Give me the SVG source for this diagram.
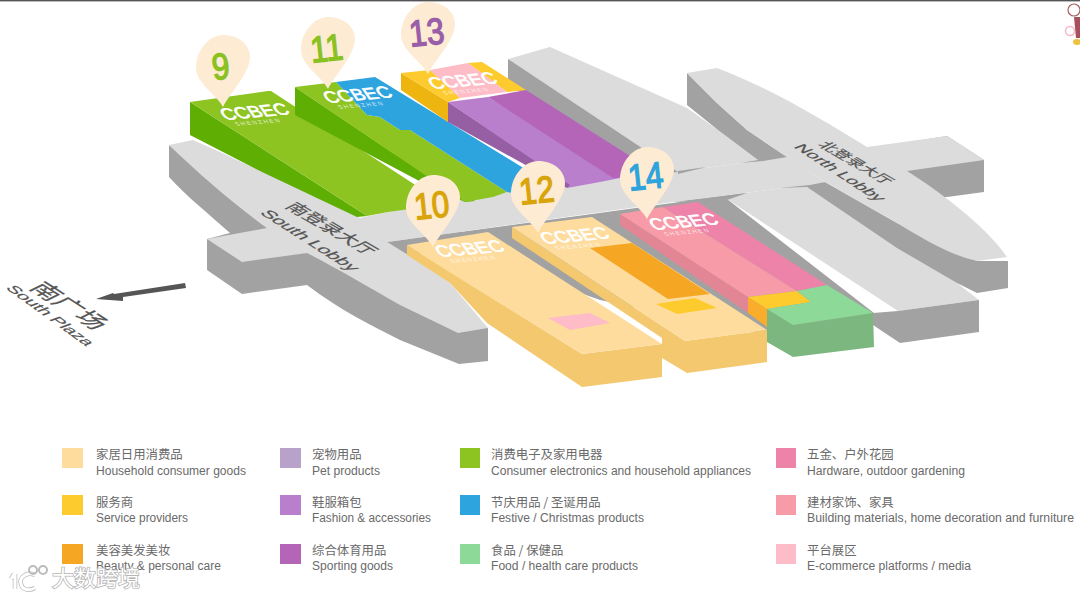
<svg xmlns="http://www.w3.org/2000/svg" width="1080" height="598" viewBox="0 0 1080 598">
<style>
text{font-family:"Liberation Sans","Noto Sans CJK SC",sans-serif}
.top{fill:#dcdcdc}.dk{fill:#a2a2a2}
.lc{font-size:12.4px;fill:#6a6a6a;font-family:"Noto Sans CJK SC",sans-serif}
.le{font-size:12px;fill:#6a6a6a}
.num{font-size:37px;text-anchor:middle;stroke-width:1.4}
.logo{font-size:17.5px;fill:#fff;stroke:#fff;stroke-width:.7}
.sub{font-size:6px;fill:#fff;opacity:.75}
.lob{fill:#555;stroke:#555;stroke-width:.25}
.pinb{fill:#fdebd3}
</style>
<defs>
<path id="pin" d="M0,0C-6,-12-27,-24-27,-39C-27,-58-13,-72,0,-72C16,-72,27,-62,27,-50C27,-34,7,-14,0,0Z"/>
</defs>
<rect width="1080" height="598" fill="#fff"/>
<rect width="1080" height="1.4" fill="#555"/>
<g id="floor">
<path class="dk" d="M169,145V177C185,195,210,215,230,233L207,239V270L242,294L307,285C340,310,370,325,400,340L459,364L488,361V328L400,290L267,228Z"/>
<path class="top" d="M169,145L193,140C250,165,310,195,360,218L388,212L460,205V245L387,242L408,255L450,283L488,328L458,333L400,305C370,288,340,270,307,253L242,262L207,239L267,228C235,205,200,175,169,145Z"/>
<path class="dk" d="M387,242L460,232L745,193L727,199L874,313V325L790,340L600,300L460,250L408,255Z"/>
<path class="dk" d="M508,59V83L622,165L640,183L706,168L678,150Z"/>
<path class="top" d="M388,212L507,192L600,180L678,172L706,168L741,163L785,155L825,182L807,187L782,188L745,193L673,202L530,222L460,232L387,242Z"/>
<path class="top" d="M508,59L550,47L687,108L718,130L758,160L741,163L706,168L678,172Z"/>
<path class="dk" d="M678,171L706,167L678,174Z"/>
<path class="top" d="M727,199L745,193L782,188L807,187L957,283L979,300L898,311Z"/>
<path class="dk" d="M673,202L747,193L727,200Z"/>
<path class="dk" d="M979,300V332L900,343L873,325L873,313L898,311Z"/>
<path class="dk" d="M947,136L984,160V192L947,197L880,205L860,150Z"/>
<path class="top" d="M867,147L947,136L984,160L907,171L880,180Z"/>
<path class="dk" d="M687,73V105L718,130L758,160L740,163L763,161L787,157L747,130L717,103Z"/>
<path class="dk" d="M780,188L810,185L825,182L897,223L977,261V293L957,283L897,248L807,187Z"/>
<path class="dk" d="M977,261H1008V288L977,293Z"/>
<path class="top" d="M687,73L717,68C770,88,820,118,867,147L907,171C940,192,985,225,1007,257L977,261C950,255,925,240,897,223L825,182L787,157L747,130L717,103Z"/>
</g>
<g id="lobby-labels">
<text class="lob" transform="matrix(.86,.5,-.82,.4,284,207)" font-size="19.5">南登录大厅</text>
<text class="lob" transform="matrix(.86,.55,-.82,.3,259,213)" font-size="19">South Lobby</text>
<text class="lob" transform="matrix(.86,.5,-.82,.4,817,145)" font-size="16">北登录大厅</text>
<text class="lob" transform="matrix(.86,.56,-.82,.3,793,147)" font-size="18">North Lobby</text>
<text class="lob" transform="matrix(.86,.55,-.82,.4,28,288)" font-size="26">南广场</text>
<text class="lob" transform="matrix(.86,.62,-.82,.3,5,288)" font-size="17.5">South Plaza</text>
</g>
<path id="plaza-arrow" fill="#555" d="M185,283L186,288L123,297V301L96,299L113,293L114,294Z"/>
<g id="hall-9">
<path fill="#5fae04" d="M190,102V135L262,172L357,217L367,216L280,160Z"/>
<path fill="#8dc421" d="M190,102L268,91L271,91L420,188L410,209L388,212L367,216Z"/>
</g>
<g id="hall-11">
<path fill="#5fae04" d="M295,87V115L423,183L465,202L475,201L393,153Z"/>
<path fill="#8dc421" d="M295,87L336,82L367,115L380,117L400,130L410,130L507,192L493,197L465,202Z"/>
<path fill="#2ea4df" d="M336,82L375,77L530,172L513,193L507,192L410,130L400,130L380,117L367,115Z"/>
</g>
<g id="hall-13">
<path fill="#965fa3" d="M448,102V122L567,188L572,185Z"/>
<path fill="#b97fcc" d="M448,102L488,97L620,178L600,182L567,188L570,185Z"/>
<path fill="#b565b8" d="M488,97L526,90L660,175L617,178L613,178Z"/>
<path fill="#eeb40f" d="M401,73V90L448,122V102Z"/>
<path fill="#fdcb2d" d="M401,73L430,70L460,98L448,102ZM468,63L482,62L526,90L507,92Z"/>
<path fill="#fdbcc6" d="M430,70L468,63L507,92L460,98Z"/>
</g>
<g id="hall-10">
<path fill="#f3c86f" d="M407,245V255L450,283L487,323L582,387L662,377V344L582,354Z"/>
<path fill="#fedc9e" d="M407,245L488,232L662,344L582,354L467,283Z"/>
<path fill="#fdbcc8" d="M548,318L590,313L610,323L570,330Z"/>
</g>
<g id="hall-12">
<path fill="#f3c86f" d="M512,227V238L662,338V358L687,373L767,362V330L685,341Z"/>
<path fill="#fedc9e" d="M512,227L592,217L767,330L685,341Z"/>
<path fill="#f5a623" d="M590,248L632,243L710,294L668,299Z"/>
<path fill="#fdcb2d" d="M656,304L695,298L717,308L677,314Z"/>
</g>
<g id="hall-14">
<path fill="#e28695" d="M620,214V225L748,313V297Z"/>
<path fill="#f89ba8" d="M620,214L663,207L797,291L748,297Z"/>
<path fill="#ee83a9" d="M663,207L698,202L827,285L797,291Z"/>
<path fill="#f9ad2a" d="M748,297V313L767,327V309Z"/>
<path fill="#fdcb2d" d="M748,297L797,291L811,302L767,309Z"/>
<path fill="#7bb77e" d="M767,309L793,325L873,313L874,347L793,357L767,342Z"/>
<path fill="#8dd998" d="M797,291L827,285L873,313L793,325L767,309L811,302Z"/>
</g>
<g id="logos">
<g transform="matrix(1,-.09,.6,.9,225,120)"><text class="logo" textLength="66" lengthAdjust="spacingAndGlyphs">CCBEC</text><text class="sub" x="7" y="7.5" textLength="44">SHENZHEN</text></g>
<g transform="matrix(1,-.09,.6,.9,328,103)"><text class="logo" textLength="66" lengthAdjust="spacingAndGlyphs">CCBEC</text><text class="sub" x="7" y="7.5" textLength="44">SHENZHEN</text></g>
<g transform="matrix(1,-.09,.6,.9,433,89)"><text class="logo" textLength="66" lengthAdjust="spacingAndGlyphs">CCBEC</text><text class="sub" x="7" y="7.5" textLength="44">SHENZHEN</text></g>
<g transform="matrix(1,-.09,.6,.9,440,257)"><text class="logo" textLength="66" lengthAdjust="spacingAndGlyphs">CCBEC</text><text class="sub" x="7" y="7.5" textLength="44">SHENZHEN</text></g>
<g transform="matrix(1,-.09,.6,.9,545,244)"><text class="logo" textLength="66" lengthAdjust="spacingAndGlyphs">CCBEC</text><text class="sub" x="7" y="7.5" textLength="44">SHENZHEN</text></g>
<g transform="matrix(1,-.09,.6,.9,654,230)"><text class="logo" textLength="66" lengthAdjust="spacingAndGlyphs">CCBEC</text><text class="sub" x="7" y="7.5" textLength="44">SHENZHEN</text></g>
</g>
<g id="pin-9"><use href="#pin" class="pinb" x="223" y="107"/><text class="num" fill="#8ac122" stroke="#8ac122" transform="translate(222,79) rotate(-6) scale(.85,1)">9</text></g>
<g id="pin-11"><use href="#pin" class="pinb" x="328" y="89"/><text class="num" fill="#8ac122" stroke="#8ac122" transform="translate(328,61) rotate(-6) scale(.85,1)">11</text></g>
<g id="pin-13"><use href="#pin" class="pinb" x="428" y="74"/><text class="num" fill="#9a5ea8" stroke="#9a5ea8" transform="translate(428,45) rotate(-6) scale(.85,1)">13</text></g>
<g id="pin-10"><use href="#pin" class="pinb" x="433" y="247"/><text class="num" fill="#d9a40a" stroke="#d9a40a" transform="translate(433,218) rotate(-6) scale(.85,1)">10</text></g>
<g id="pin-12"><use href="#pin" class="pinb" x="538" y="233"/><text class="num" fill="#d9a40a" stroke="#d9a40a" transform="translate(538,203) rotate(-6) scale(.85,1)">12</text></g>
<g id="pin-14"><use href="#pin" class="pinb" x="647" y="219"/><text class="num" fill="#2ea3dc" stroke="#2ea3dc" transform="translate(647,189) rotate(-6) scale(.85,1)">14</text></g>
<g id="legend">
<rect x="62" y="448" width="21" height="20" fill="#fedc9e"/><text class="lc" x="96" y="459">家居日用消费品</text><text class="le" x="96" y="475" textLength="150" lengthAdjust="spacingAndGlyphs">Household consumer goods</text>
<rect x="62" y="495" width="21" height="20" fill="#fdcb2d"/><text class="lc" x="96" y="507">服务商</text><text class="le" x="96" y="522" textLength="92" lengthAdjust="spacingAndGlyphs">Service providers</text>
<rect x="62" y="544" width="21" height="20" fill="#f5a623"/><text class="lc" x="96" y="555">美容美发美妆</text><text class="le" x="96" y="570" textLength="125" lengthAdjust="spacingAndGlyphs">Beauty &amp; personal care</text>
<rect x="280" y="448" width="21" height="20" fill="#b9a2c9"/><text class="lc" x="312" y="459">宠物用品</text><text class="le" x="312" y="475" textLength="68" lengthAdjust="spacingAndGlyphs">Pet products</text>
<rect x="280" y="495" width="21" height="20" fill="#b97fcc"/><text class="lc" x="312" y="507">鞋服箱包</text><text class="le" x="312" y="522" textLength="119" lengthAdjust="spacingAndGlyphs">Fashion &amp; accessories</text>
<rect x="280" y="544" width="21" height="20" fill="#b565b8"/><text class="lc" x="312" y="555">综合体育用品</text><text class="le" x="312" y="570" textLength="81" lengthAdjust="spacingAndGlyphs">Sporting goods</text>
<rect x="460" y="448" width="20" height="20" fill="#8dc421"/><text class="lc" x="491" y="459">消费电子及家用电器</text><text class="le" x="491" y="475" textLength="260" lengthAdjust="spacingAndGlyphs">Consumer electronics and household appliances</text>
<rect x="460" y="495" width="20" height="20" fill="#2ea4df"/><text class="lc" x="491" y="507">节庆用品 / 圣诞用品</text><text class="le" x="491" y="522" textLength="153" lengthAdjust="spacingAndGlyphs">Festive / Christmas products</text>
<rect x="460" y="544" width="20" height="20" fill="#8dd998"/><text class="lc" x="491" y="555">食品 / 保健品</text><text class="le" x="491" y="570" textLength="147" lengthAdjust="spacingAndGlyphs">Food / health care products</text>
<rect x="776" y="448" width="20" height="20" fill="#ee83a9"/><text class="lc" x="807" y="459">五金、户外花园</text><text class="le" x="807" y="475" textLength="158" lengthAdjust="spacingAndGlyphs">Hardware, outdoor gardening</text>
<rect x="776" y="495" width="20" height="20" fill="#f89ba8"/><text class="lc" x="807" y="507">建材家饰、家具</text><text class="le" x="807" y="522" textLength="267" lengthAdjust="spacingAndGlyphs">Building materials, home decoration and furniture</text>
<rect x="776" y="544" width="20" height="20" fill="#fdbcc8"/><text class="lc" x="807" y="555">平台展区</text><text class="le" x="807" y="570" textLength="164" lengthAdjust="spacingAndGlyphs">E-commerce platforms / media</text>
</g>
<g id="watermark" fill="none">
<path d="M14,574L11,579M15,574V589M35,575C26,571,19,578,21,584C22,590,29,591,35,588" stroke="#bbb" stroke-width="4.5"/>
<path d="M14,574L11,579M15,574V589M35,575C26,571,19,578,21,584C22,590,29,591,35,588" stroke="#fff" stroke-width="3"/>
<circle cx="33" cy="570" r="4" stroke="#bbb" stroke-width="2"/><circle cx="43" cy="570" r="4" stroke="#bbb" stroke-width="2"/>
<text x="52" y="586" font-size="22" fill="#fff" stroke="#b5b5b5" stroke-width="1.6" paint-order="stroke" style="font-family:'Noto Sans CJK SC',sans-serif">大数跨境</text>
</g>
<g id="mascot">
<circle cx="1074" cy="10" r="6" fill="#fff" stroke="#a86060" stroke-width="1.2"/>
<path d="M1074,17H1080V38H1076Z" fill="#a85060"/>
<circle cx="1070" cy="31" r="4.5" fill="none" stroke="#f4b8c8" stroke-width="1.5"/>
<ellipse cx="1077" cy="42" rx="4" ry="3" fill="#f0c040"/>
</g>
</svg>
